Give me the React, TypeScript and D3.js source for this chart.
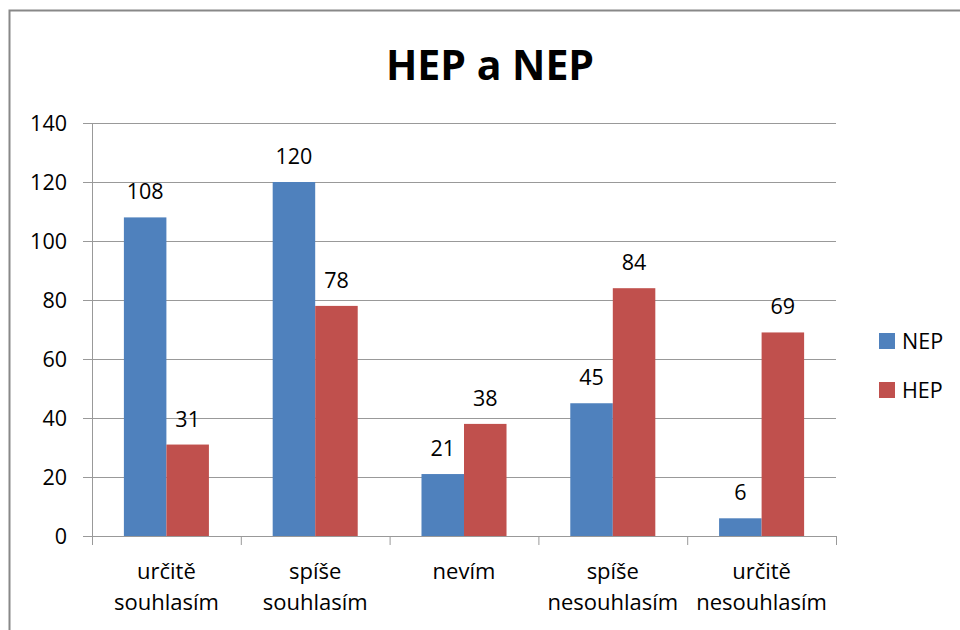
import React from 'react';
import * as d3 from 'd3';

// categories (two-line labels) and series values
const categories = ['určitě souhlasím', 'spíše souhlasím', 'nevím', 'spíše nesouhlasím', 'určitě nesouhlasím'];
const categoryLines = [['určitě', 'souhlasím'], ['spíše', 'souhlasím'], ['nevím'], ['spíše', 'nesouhlasím'], ['určitě', 'nesouhlasím']];
const nepValues = [108, 120, 21, 45, 6];
const hepValues = [31, 78, 38, 84, 69];
const seriesNames = ['NEP', 'HEP'];
const seriesColors = ['#4F81BD', '#C0504D'];
const yTicks = [0, 20, 40, 60, 80, 100, 120, 140];

const W = 960;
const H = 630;
const font = "'Open Sans', 'Noto Sans', sans-serif";

const App = () => {
  const plot = { left: 92, right: 836, top: 123, bottom: 536 };

  const x0 = d3.scaleBand<string>()
    .domain(categories)
    .range([plot.left, plot.right])
    .paddingInner(0)
    .paddingOuter(0);

  // Excel gap width 150%: group = 2 bars, gap = 1.5 bars
  const bw = x0.bandwidth() / 3.5;

  const y = d3.scaleLinear().domain([0, 140]).range([plot.bottom, plot.top]);

  const series = [nepValues, hepValues];

  return (
    <svg width={W} height={H} style={{ display: 'block', position: 'absolute', left: 0, top: 0 }}>
      <rect x={0} y={0} width={W} height={H} fill="#fff" />
      {/* chart border */}
      <rect x={9.5} y={10.5} width={1000} height={700} fill="none" stroke="#888" strokeWidth={2} />

      {/* title */}
      <text x={490} y={80} textAnchor="middle" fontFamily={font} fontWeight="bold" fontSize={41} fill="#000">
        HEP a NEP
      </text>

      {/* gridlines + y ticks */}
      {yTicks.map(t => (
        <g key={t}>
          <line x1={plot.left - 9} x2={t === 0 ? plot.left : plot.right} y1={y(t) + 0.5} y2={y(t) + 0.5} stroke="#999" strokeWidth={1} />
          <text x={67} y={y(t)} dy="0.36em" textAnchor="end" fontFamily={font} fontSize={21.5} fill="#000">
            {t}
          </text>
        </g>
      ))}

      {/* bars */}
      {categories.map((c, i) => {
        const cx = (x0(c) ?? 0) + x0.bandwidth() / 2;
        return (
          <g key={c}>
            {series.map((vals, s) => {
              const bx = cx - bw + s * bw;
              return (
                <g key={s}>
                  <rect x={bx} y={y(vals[i])} width={bw} height={y(0) - y(vals[i])} fill={seriesColors[s]} />
                  <text x={bx + bw / 2} y={y(vals[i]) - 18} textAnchor="middle" fontFamily={font} fontSize={21.5} fill="#000">
                    {vals[i]}
                  </text>
                </g>
              );
            })}
          </g>
        );
      })}

      {/* axes */}
      <line x1={plot.left + 0.5} x2={plot.left + 0.5} y1={plot.top} y2={plot.bottom + 9} stroke="#999" />
      <line x1={plot.left} x2={plot.right} y1={plot.bottom + 0.5} y2={plot.bottom + 0.5} stroke="#999" />
      {categories.map((c) => (
        <line key={c} x1={(x0(c) ?? 0) + x0.bandwidth() + 0.5} x2={(x0(c) ?? 0) + x0.bandwidth() + 0.5}
          y1={plot.bottom} y2={plot.bottom + 9} stroke="#999" />
      ))}

      {/* category labels */}
      {categories.map((c, i) => {
        const cx = (x0(c) ?? 0) + x0.bandwidth() / 2;
        return (
          <text key={c} textAnchor="middle" fontFamily={font} fontSize={22} fill="#000">
            {categoryLines[i].map((ln, k) => (
              <tspan key={k} x={cx} y={579 + k * 31}>{ln}</tspan>
            ))}
          </text>
        );
      })}

      {/* legend */}
      {seriesNames.map((n, s) => (
        <g key={n} transform={`translate(879, ${333 + s * 49})`}>
          <rect x={0} y={0} width={16} height={16} fill={seriesColors[s]} />
          <text x={23} y={8} dy="0.36em" fontFamily={font} fontSize={21.5} fill="#000">{n}</text>
        </g>
      ))}
    </svg>
  );
};

export default App;
